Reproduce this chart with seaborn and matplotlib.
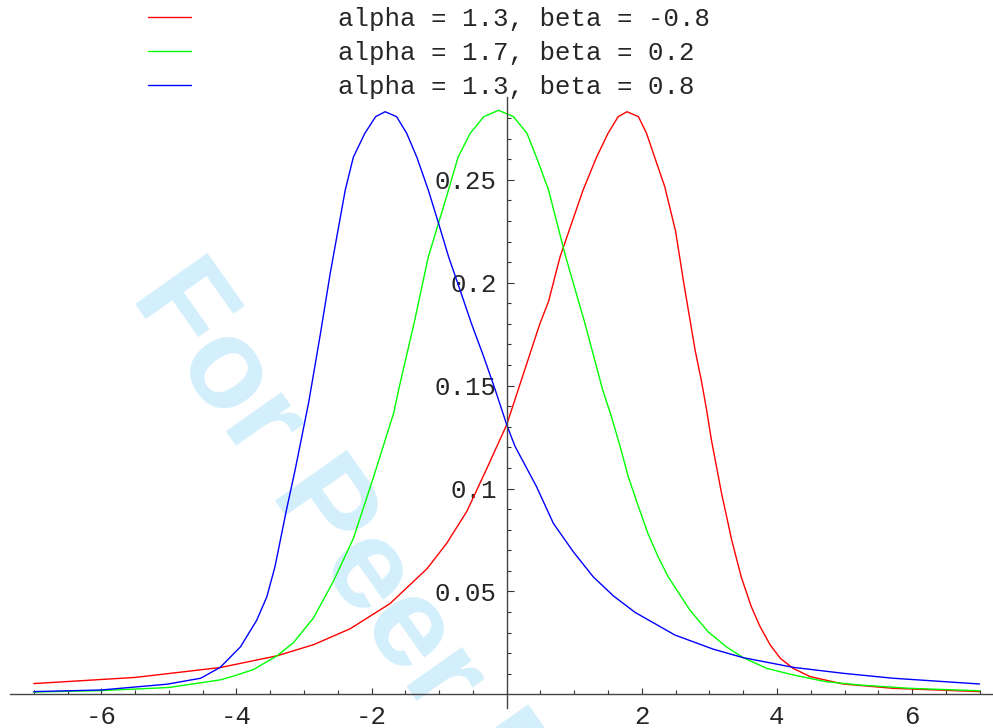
import numpy as np
import pandas as pd
import matplotlib
matplotlib.use("Agg")
import matplotlib.pyplot as plt
import seaborn as sns

# curves (stable densities)
red_label = "alpha = 1.3, beta = -0.8"
green_label = "alpha = 1.7, beta = 0.2"
blue_label = "alpha = 1.3, beta = 0.8"

red_x = [-7.0, -5.5, -4.24, -3.40, -2.86, -2.32, -1.73, -1.18, -0.89, -0.59, -0.30,
         0.0, 0.17, 0.49, 0.62, 0.79, 1.13, 1.33, 1.50, 1.65, 1.78, 1.95, 2.07, 2.19,
         2.34, 2.50, 2.62, 2.79, 2.88, 2.96, 3.03, 3.18, 3.33, 3.47, 3.62, 3.75, 3.90,
         4.05, 4.24, 4.49, 4.98, 5.72, 7.0]
red_y = [0.0052, 0.0082, 0.0130, 0.0187, 0.0241, 0.0318, 0.0440, 0.0610, 0.0733, 0.0889, 0.1093,
         0.131, 0.148, 0.180, 0.191, 0.2126, 0.245, 0.261, 0.2726, 0.2807, 0.2831, 0.2807, 0.2726, 0.261,
         0.2466, 0.225, 0.200, 0.167, 0.1527, 0.138, 0.1236, 0.0977, 0.075, 0.0572, 0.0426, 0.0329, 0.024,
         0.0175, 0.0126, 0.0086, 0.0050, 0.0029, 0.0013]

green_x = [-7.0, -6.0, -5.0, -4.24, -4.04, -3.75, -3.40, -3.16, -2.86, -2.57, -2.27, -1.97,
           -1.67, -1.60, -1.38, -1.16, -0.88, -0.72, -0.54, -0.34, -0.12, 0.10, 0.30, 0.44,
           0.62, 0.87, 1.16, 1.42, 1.55, 1.68, 1.80, 1.95, 2.09, 2.24, 2.39, 2.71, 2.98,
           3.25, 3.50, 3.85, 4.24, 4.73, 5.23, 5.97, 7.0]
green_y = [0.0011, 0.0018, 0.0033, 0.0070, 0.0089, 0.0120, 0.0187, 0.0250, 0.0371, 0.0546, 0.0757, 0.1057,
           0.137, 0.148, 0.179, 0.2126, 0.243, 0.261, 0.2726, 0.2807, 0.2838, 0.2807, 0.2726, 0.261,
           0.245, 0.213, 0.180, 0.148, 0.1349, 0.1203, 0.1057, 0.0912, 0.0782, 0.0669, 0.0571, 0.041, 0.0304,
           0.0231, 0.0178, 0.0126, 0.0094, 0.0061, 0.0045, 0.0029, 0.0017]

blue_x = [-7.0, -6.0, -5.03, -4.53, -4.24, -3.94, -3.70, -3.55, -3.43, -3.26, -3.13, -2.93,
          -2.76, -2.61, -2.39, -2.27, -2.10, -1.94, -1.80, -1.63, -1.48, -1.33, -1.16, -1.01,
          -0.86, -0.69, -0.52, -0.34, -0.17, 0.0, 0.12, 0.44, 0.69, 0.985, 1.28, 1.58, 1.90,
          2.49, 3.06, 3.50, 4.24, 4.98, 5.72, 7.0]
blue_y = [0.0013, 0.0021, 0.0049, 0.0078, 0.0131, 0.0231, 0.0360, 0.0474, 0.0620, 0.0896, 0.1093, 0.142,
          0.1747, 0.205, 0.245, 0.261, 0.2726, 0.2807, 0.2831, 0.2807, 0.2726, 0.261, 0.245, 0.229,
          0.2126, 0.1964, 0.180, 0.164, 0.148, 0.131, 0.1207, 0.101, 0.0831, 0.0693, 0.0571, 0.0478, 0.0398,
          0.0288, 0.0219, 0.0178, 0.0131, 0.0102, 0.0078, 0.0050]

x_major = [-6, -4, -2, 2, 4, 6]
y_major = [0.05, 0.1, 0.15, 0.2, 0.25]

df = pd.concat([
    pd.DataFrame({"x": red_x, "y": red_y, "curve": red_label}),
    pd.DataFrame({"x": green_x, "y": green_y, "curve": green_label}),
    pd.DataFrame({"x": blue_x, "y": blue_y, "curve": blue_label}),
])
palette = {red_label: "#ff0000", green_label: "#00ff00", blue_label: "#0000ff"}

sns.set_style("white")
plt.rcParams["font.family"] = ["Liberation Mono", "DejaVu Sans Mono"]
plt.rcParams["axes.unicode_minus"] = False

fig = plt.figure(figsize=(9.93, 7.28), dpi=100)
ax = fig.add_axes([10 / 993, 20 / 728, 983 / 993, 611.3 / 728])
ax.set_facecolor("none")

sns.lineplot(data=df, x="x", y="y", hue="curve", palette=palette,
             hue_order=[red_label, green_label, blue_label],
             estimator=None, sort=True, lw=1.0, legend=False, ax=ax)

ax.set_xlim(-7.352, 7.198)
ax.set_ylim(-0.00666, 0.2904)
ax.set_xlabel("")
ax.set_ylabel("")

# axes crossing at the origin, Mathematica style
for side in ["top", "right"]:
    ax.spines[side].set_visible(False)
for side in ["left", "bottom"]:
    ax.spines[side].set_position(("data", 0))
    ax.spines[side].set_color("#444444")
    ax.spines[side].set_linewidth(1.0)

ax.set_xticks(x_major)
ax.set_xticklabels([str(v) for v in x_major])
ax.set_xticks(np.arange(-7, 7.01, 0.5), minor=True)
ax.set_yticks(y_major)
ax.set_yticklabels([f"{v:g}" for v in y_major])
ax.set_yticks(np.arange(0.01, 0.285, 0.01), minor=True)

ax.tick_params(which="both", bottom=True, left=True, top=False, right=False)
ax.tick_params(axis="x", which="major", direction="in", length=4.3, width=0.8,
               color="#333333", labelsize=18.5, pad=8)
ax.tick_params(axis="x", which="minor", direction="in", length=2.9, width=0.8, color="#333333")
ax.tick_params(axis="y", which="major", direction="in", length=5, width=0.8,
               color="#333333", labelsize=18.5, pad=7)
ax.tick_params(axis="y", which="minor", direction="in", length=3, width=0.8, color="#333333")

# watermark
ax.text(130 / 993, 1 - 296 / 728, "For Peer Review", transform=fig.transFigure,
        rotation=-54.7, rotation_mode="anchor", ha="left", va="baseline",
        fontsize=92, fontweight="bold", family="Liberation Sans",
        color="#d4effc", zorder=0.5, clip_on=False)

fig.legend(handles=ax.lines[:3], labels=[red_label, green_label, blue_label],
           loc="upper left", bbox_to_anchor=(148 / 993, 1 - 7 / 728),
           frameon=False, borderpad=0, borderaxespad=0,
           handlelength=1.68, handletextpad=5.73, labelspacing=0.38,
           fontsize=18.5)

fig.savefig("out.png", dpi=100)
